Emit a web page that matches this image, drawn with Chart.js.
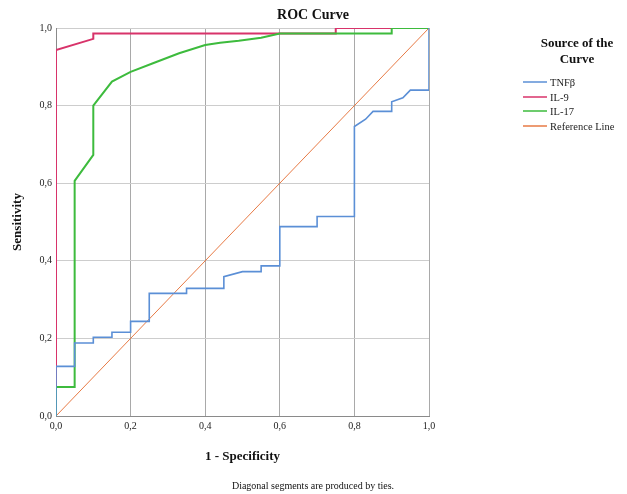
<!DOCTYPE html>
<html>
<head>
<meta charset="utf-8">
<script src="https://cdn.jsdelivr.net/npm/chart.js@4/dist/chart.umd.min.js"></script>
<style>
html,body{margin:0;padding:0;background:#fff;}
canvas{display:block;}
</style>
</head>
<body>
<canvas id="c" width="627" height="494"></canvas>
<script>
// ---- data ----
const seriesNames = ['TNFβ', 'IL-9', 'IL-17', 'Reference Line'];
const xTickLabels = ['0,0', '0,2', '0,4', '0,6', '0,8', '1,0'];
const yTickLabels = ['0,0', '0,2', '0,4', '0,6', '0,8', '1,0'];

const tnfX = [0, 0, 0.05, 0.05, 0.10, 0.10, 0.15, 0.15, 0.20, 0.20, 0.25, 0.25, 0.35, 0.35, 0.45, 0.45, 0.50, 0.55, 0.55, 0.60, 0.60, 0.70, 0.70, 0.80, 0.80, 0.83, 0.85, 0.90, 0.90, 0.93, 0.95, 1.0, 1.0];
const tnfY = [0, 0.128, 0.128, 0.188, 0.188, 0.203, 0.203, 0.216, 0.216, 0.244, 0.244, 0.316, 0.316, 0.329, 0.329, 0.359, 0.372, 0.372, 0.387, 0.387, 0.488, 0.488, 0.514, 0.514, 0.746, 0.765, 0.785, 0.785, 0.810, 0.820, 0.840, 0.840, 1.0];

const il9X = [0, 0, 0.10, 0.10, 0.75, 0.75, 1.0];
const il9Y = [0, 0.943, 0.972, 0.986, 0.986, 1.0, 1.0];

const il17X = [0, 0, 0.05, 0.05, 0.10, 0.10, 0.15, 0.20, 0.26, 0.33, 0.40, 0.44, 0.49, 0.55, 0.60, 0.90, 0.90, 1.0];
const il17Y = [0, 0.075, 0.075, 0.606, 0.673, 0.800, 0.862, 0.887, 0.909, 0.935, 0.956, 0.962, 0.967, 0.975, 0.986, 0.986, 1.0, 1.0];

const refX = [0, 1];
const refY = [0, 1];

const colors = ['#5b8fd6', '#d8336a', '#3dbb3d', '#e77a45'];
const widths = [1.6, 2, 2, 1];
const orders = [0, 2, 1, 3];

function pts(xs, ys) { return xs.map((x, i) => ({ x: x, y: ys[i] })); }

const SERIF = '"Liberation Serif", "DejaVu Serif", serif';

const overlay = {
  id: 'overlay',
  afterDraw(chart) {
    const ctx = chart.ctx;
    const ca = chart.chartArea;
    ctx.save();
    ctx.fillStyle = '#111';
    // Title
    ctx.font = 'bold 14px ' + SERIF;
    ctx.textAlign = 'center';
    ctx.textBaseline = 'alphabetic';
    ctx.fillText('ROC Curve', 313, 19);
    // X axis title
    ctx.font = 'bold 13px ' + SERIF;
    ctx.fillText('1 - Specificity', (ca.left + ca.right) / 2, 460);
    // Footnote
    ctx.font = '10px ' + SERIF;
    ctx.fillText('Diagonal segments are produced by ties.', 313, 489);
    // Y axis title
    ctx.save();
    ctx.translate(18, (ca.top + ca.bottom) / 2);
    ctx.rotate(-Math.PI / 2);
    ctx.font = 'bold 13px ' + SERIF;
    ctx.textBaseline = 'middle';
    ctx.fillText('Sensitivity', 0, 0);
    ctx.restore();
    // Legend
    ctx.font = 'bold 13px ' + SERIF;
    ctx.textAlign = 'center';
    ctx.fillText('Source of the', 577, 47);
    ctx.fillText('Curve', 577, 63);
    ctx.font = '10.5px ' + SERIF;
    ctx.textAlign = 'left';
    ctx.textBaseline = 'middle';
    const ys = [82, 97, 111, 126];
    chart.data.datasets.forEach((ds, i) => {
      ctx.strokeStyle = ds.borderColor;
      ctx.lineWidth = 1.5;
      ctx.beginPath();
      ctx.moveTo(523, ys[i]);
      ctx.lineTo(547, ys[i]);
      ctx.stroke();
      ctx.fillStyle = '#222';
      ctx.fillText(ds.label, 550, ys[i] + 1);
    });
    ctx.restore();
  }
};

const mk = (i, xs, ys) => ({
  label: seriesNames[i],
  data: pts(xs, ys),
  showLine: true,
  borderColor: colors[i],
  backgroundColor: colors[i],
  borderWidth: widths[i],
  pointRadius: 0,
  pointHoverRadius: 0,
  tension: 0,
  fill: false,
  order: orders[i]
});

new Chart(document.getElementById('c'), {
  type: 'scatter',
  data: {
    datasets: [
      mk(0, tnfX, tnfY),
      mk(1, il9X, il9Y),
      mk(2, il17X, il17Y),
      mk(3, refX, refY)
    ]
  },
  options: {
    responsive: false,
    animation: false,
    devicePixelRatio: 1,
    layout: { padding: { left: 0, top: 28, right: 198, bottom: 0 } },
    plugins: { legend: { display: false }, tooltip: { enabled: false }, title: { display: false } },
    scales: {
      x: {
        type: 'linear', min: 0, max: 1,
        afterFit: s => { s.height = 78; },
        ticks: {
          stepSize: 0.2,
          callback: (v, i) => xTickLabels[i],
          font: { family: SERIF, size: 10 },
          color: '#222',
          padding: 4,
          maxRotation: 0
        },
        grid: { color: '#a9a9a9', lineWidth: 1, drawTicks: false },
        border: { color: '#8a8a8a' }
      },
      y: {
        type: 'linear', min: 0, max: 1,
        afterFit: s => { s.width = 56; },
        ticks: {
          stepSize: 0.2,
          callback: (v, i) => yTickLabels[i],
          font: { family: SERIF, size: 10 },
          color: '#222',
          padding: 4
        },
        grid: { color: '#cdcdcd', lineWidth: 1, drawTicks: false },
        border: { color: '#8a8a8a' }
      }
    }
  },
  plugins: [overlay]
});
</script>
</body>
</html>
